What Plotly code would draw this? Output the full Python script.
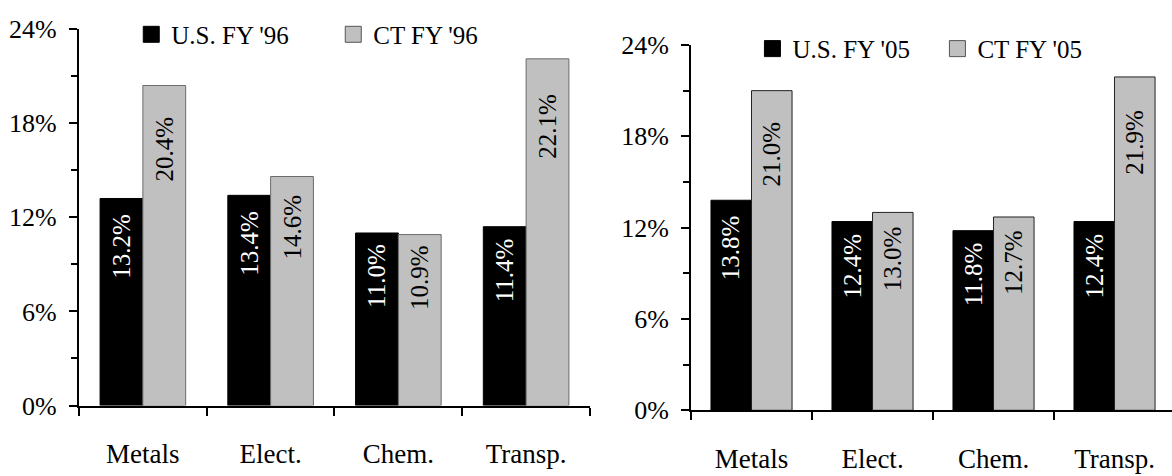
import plotly.graph_objects as go

# Industry categories and shares (%) for each fiscal year
categories = ["Metals", "Elect.", "Chem.", "Transp."]
us_fy96 = [13.2, 13.4, 11.0, 11.4]
ct_fy96 = [20.4, 14.6, 10.9, 22.1]
us_fy05 = [13.8, 12.4, 11.8, 12.4]
ct_fy05 = [21.0, 13.0, 12.7, 21.9]
y_ticks = [0, 6, 12, 18, 24]
y_tick_labels = [f"{v}%" for v in y_ticks]

FONT = "Liberation Serif, Times New Roman, serif"
BLACK = "#000000"
GRAY = "#c0c0c0"
BARGAP = 0.33


def label_y(v):
    """Vertical centre of the rotated value label inside a bar of height v."""
    return 0.86 * v - 1.2


fig = go.Figure()

panels = [
    dict(x="x", y="y", legend="legend", us=us_fy96, ct=ct_fy96,
         us_name="U.S. FY '96", ct_name="CT FY '96", ct_edge="#6a6a6a"),
    dict(x="x2", y="y2", legend="legend2", us=us_fy05, ct=ct_fy05,
         us_name="U.S. FY '05", ct_name="CT FY '05", ct_edge="#222222"),
]

half = (1 - BARGAP) / 4  # offset of each bar centre from its category centre

for p in panels:
    fig.add_trace(go.Bar(
        x=categories, y=p["us"], xaxis=p["x"], yaxis=p["y"],
        marker=dict(color=BLACK, line=dict(color=BLACK, width=1)),
        showlegend=False, hoverinfo="skip"))
    fig.add_trace(go.Bar(
        x=categories, y=p["ct"], xaxis=p["x"], yaxis=p["y"],
        marker=dict(color=GRAY, line=dict(color=p["ct_edge"], width=1)),
        showlegend=False, hoverinfo="skip"))
    # legend entries with larger square swatches
    fig.add_trace(go.Scatter(
        x=[None], y=[None], xaxis=p["x"], yaxis=p["y"], mode="markers",
        marker=dict(symbol="square", size=16, color=BLACK,
                    line=dict(color=BLACK, width=1)),
        name=p["us_name"], legend=p["legend"]))
    fig.add_trace(go.Scatter(
        x=[None], y=[None], xaxis=p["x"], yaxis=p["y"], mode="markers",
        marker=dict(symbol="square", size=16, color=GRAY,
                    line=dict(color="#555555", width=1)),
        name=p["ct_name"], legend=p["legend"]))

    # rotated value labels inside each bar
    for i, (u, c) in enumerate(zip(p["us"], p["ct"])):
        fig.add_annotation(
            x=i - half, y=label_y(u), xref=p["x"], yref=p["y"],
            text=f"{u:.1f}%", textangle=-90, showarrow=False,
            font=dict(family=FONT, size=25, color="white"))
        fig.add_annotation(
            x=i + half, y=label_y(c), xref=p["x"], yref=p["y"],
            text=f"{c:.1f}%", textangle=-90, showarrow=False,
            font=dict(family=FONT, size=25, color="black"))

xaxis_common = dict(
    type="category", tickson="boundaries", ticks="outside", ticklen=8,
    tickwidth=1.5, tickcolor="black", showline=True, linecolor="black",
    linewidth=2, showgrid=False, zeroline=False, ticklabelstandoff=23,
    tickfont=dict(family=FONT, size=27, color="black"), fixedrange=True)

yaxis_common = dict(
    range=[0, 24], tickmode="array", tickvals=y_ticks,
    ticktext=y_tick_labels, ticks="outside",
    ticklen=8, tickwidth=1.5, tickcolor="black", showline=True,
    linecolor="black", linewidth=2, showgrid=False, zeroline=False,
    ticklabelstandoff=7,
    minor=dict(dtick=3, ticks="outside", ticklen=6, tickwidth=1.5,
               tickcolor="black", showgrid=False),
    tickfont=dict(family=FONT, size=26, color="black"), fixedrange=True)

legend_common = dict(
    orientation="h", font=dict(family=FONT, size=25, color="black"),
    bgcolor="rgba(0,0,0,0)", borderwidth=0, xanchor="left",
    yanchor="middle", entrywidthmode="pixels",
    itemclick=False, itemdoubleclick=False)

fig.update_layout(
    width=1172, height=476,
    margin=dict(l=0, r=0, t=0, b=0),
    paper_bgcolor="white", plot_bgcolor="white",
    barmode="group", bargap=BARGAP, bargroupgap=0,
    xaxis=dict(xaxis_common, domain=[0.0674, 0.5034], anchor="y",
               range=[-0.5, 3.5]),
    yaxis=dict(yaxis_common, domain=[0.124, 0.9664], anchor="x"),
    xaxis2=dict(xaxis_common, domain=[0.5896, 1.0], anchor="y2",
                range=[-0.5, 3.475]),
    yaxis2=dict(yaxis_common, domain=[0.1134, 0.9307], anchor="x2"),
    legend=dict(legend_common, x=0.112, y=0.954, entrywidth=157),
    legend2=dict(legend_common, x=0.642, y=0.922, entrywidth=140),
)

fig.write_html("out.html")
